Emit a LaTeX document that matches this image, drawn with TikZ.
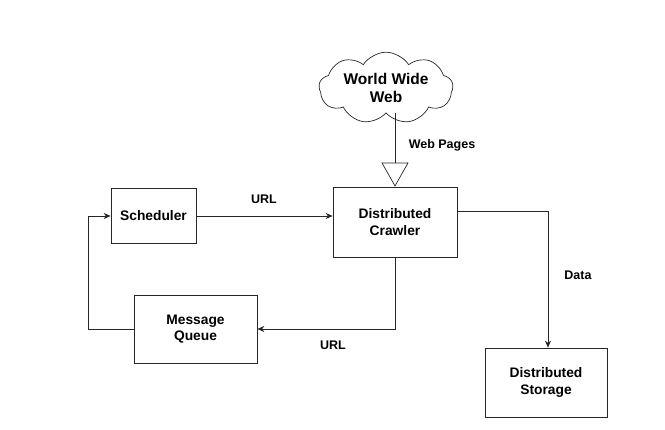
\documentclass[tikz,border=0pt]{standalone}
\usepackage{fontspec}
\setmainfont{Liberation Sans}
\usetikzlibrary{shapes.symbols,arrows.meta,positioning}

\begin{document}
\begin{tikzpicture}[
    x=1pt, y=-1pt,
    line width=0.7pt,
    block/.style={rectangle, draw=black!85, align=center, font=\fontsize{13.8}{16.5}\selectfont\bfseries},
    cloudbox/.style={cloud, cloud puffs=9, cloud puff arc=115, cloud ignores aspect, draw=black!85, align=center,
        minimum width=134pt, minimum height=66pt, font=\fontsize{15.5}{17.5}\selectfont\bfseries},
    lbl/.style={font=\fontsize{12.5}{15}\selectfont\bfseries},
    arrow/.style={-{Stealth[length=7pt,width=6pt]}, draw=black!85},
    webarrow/.style={-{Triangle[open,length=24pt,width=27pt]}, draw=black!85}
]
\useasboundingbox (0,0) rectangle (665,430);

% nodes
\node[cloudbox] (web) at (386,88) {World Wide\\Web};
\node[block, minimum width=124pt, minimum height=70pt] (crawler) at (395,222) {Distributed\\Crawler};
\node[block, minimum width=85pt, minimum height=55pt] (scheduler) at (153.5,216) {Scheduler};
\node[block, minimum width=123pt, minimum height=68pt] (queue) at (195.5,329) {Message\\Queue};
\node[block, minimum width=122pt, minimum height=69pt] (storage) at (546,382.5) {Distributed\\Storage};
\coordinate (qloop) at (88,329);

% labels
\node[lbl] (lpages) at (442,145) {Web Pages};
\node[lbl] (lurl1) at (264,199) {URL};
\node[lbl] (lurl2) at (333,345) {URL};
\node[lbl] (ldata) at (578,275) {Data};

% connectors
\draw[webarrow] (crawler.north |- web.south) -- (crawler.north);
\draw[arrow] (scheduler.east) -- (scheduler.east -| crawler.west);
\draw[arrow] (crawler.south) |- (queue.east);
\draw[arrow] (queue.west) -- (qloop) |- (scheduler.west);
\draw[arrow] ([yshift=11pt]crawler.east) -| ([xshift=2pt]storage.north);

\end{tikzpicture}
\end{document}
